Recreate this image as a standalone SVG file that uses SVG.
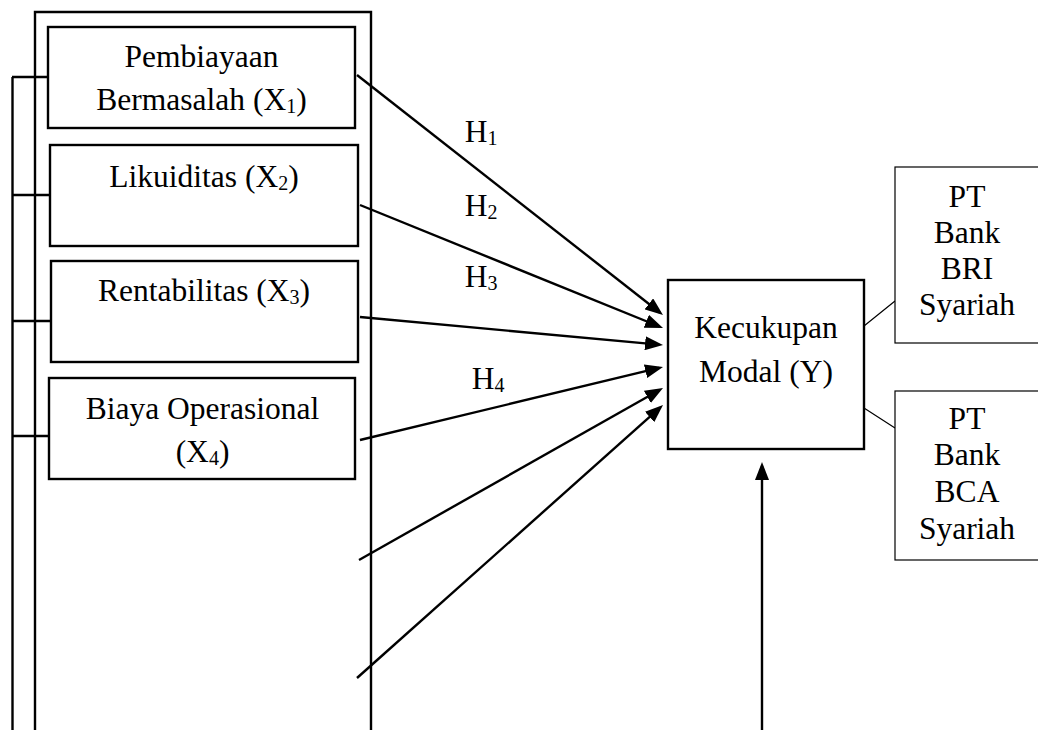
<svg xmlns="http://www.w3.org/2000/svg" width="1038" height="730" viewBox="0 0 1038 730">
<defs>
<marker id="ah" markerUnits="userSpaceOnUse" markerWidth="18" markerHeight="14" refX="14" refY="7" orient="auto">
<path d="M0,0 L18,7 L0,14 z" fill="#000"/>
</marker>
<style>
.sub{font-size:20px}
.box{fill:#fff;stroke:#000;stroke-width:2.4}
.thin{fill:#fff;stroke:#000;stroke-width:1.2}
.ln{stroke:#000;stroke-width:2.4;fill:none}
.arr{stroke:#000;stroke-width:2.4;fill:none;marker-end:url(#ah)}
.tl{stroke:#000;stroke-width:1.2;fill:none}
</style>
</defs>
<rect width="1038" height="730" fill="#fff"/>
<g id="frame">
<path class="ln" d="M35,745 V12 H371 V745"/>
<path class="ln" d="M12.5,745 V77"/>
</g>
<g id="connectors">
<path class="ln" d="M12,77 H52 M12,195 H54 M12,321 H54 M12,436 H53"/>
<path class="arr" d="M357,75 L659.85,312.53"/>
<path class="arr" d="M360,205 L659.29,326.5"/>
<path class="arr" d="M360,317 L659.02,344.63"/>
<path class="arr" d="M360,440 L659.11,367.94"/>
<path class="arr" d="M359,560 L659.52,389.97"/>
<path class="arr" d="M357,678 L660.02,407.66"/>
<path class="arr" d="M762,735 L762,466"/>
<path class="tl" d="M864,326 L895,301 M864,408 L895,428"/>
</g>
<g font-family="'Liberation Serif', 'Times New Roman', 'DejaVu Serif', serif" font-size="31.5" fill="#000" text-anchor="middle">
<g id="labels">
<text x="481" y="142">H<tspan class="sub" dy="3">1</tspan></text>
<text x="481" y="216">H<tspan class="sub" dy="3">2</tspan></text>
<text x="481" y="287">H<tspan class="sub" dy="3">3</tspan></text>
<text x="488" y="389">H<tspan class="sub" dy="3">4</tspan></text>
</g>
<g id="x1">
<rect class="box" x="48" y="27" width="307" height="101"/>
<text x="201.5" y="66.5">Pembiayaan</text>
<text x="201.5" y="110">Bermasalah (X<tspan class="sub" dy="3">1</tspan><tspan dy="-3">)</tspan></text>
</g>
<g id="x2">
<rect class="box" x="50" y="145" width="308" height="101"/>
<text x="204" y="187">Likuiditas (X<tspan class="sub" dy="3">2</tspan><tspan dy="-3">)</tspan></text>
</g>
<g id="x3">
<rect class="box" x="51" y="261" width="307" height="101"/>
<text x="204" y="301">Rentabilitas (X<tspan class="sub" dy="3">3</tspan><tspan dy="-3">)</tspan></text>
</g>
<g id="x4">
<rect class="box" x="49" y="378" width="306" height="101"/>
<text x="202.5" y="418.5">Biaya Operasional</text>
<text x="202.5" y="461.5">(X<tspan class="sub" dy="3">4</tspan><tspan dy="-3">)</tspan></text>
</g>
<g id="y">
<rect class="box" x="668" y="280" width="196" height="169"/>
<text x="766" y="338">Kecukupan</text>
<text x="766" y="381.5">Modal (Y)</text>
</g>
<g id="bri">
<rect class="thin" x="895" y="167" width="160" height="176"/>
<text x="967" y="207">PT</text>
<text x="967" y="243">Bank</text>
<text x="967" y="279">BRI</text>
<text x="967" y="315">Syariah</text>
</g>
<g id="bca">
<rect class="thin" x="895" y="391" width="160" height="169"/>
<text x="967" y="428.5">PT</text>
<text x="967" y="465">Bank</text>
<text x="967" y="501.5">BCA</text>
<text x="967" y="539">Syariah</text>
</g>
</g>
</svg>
